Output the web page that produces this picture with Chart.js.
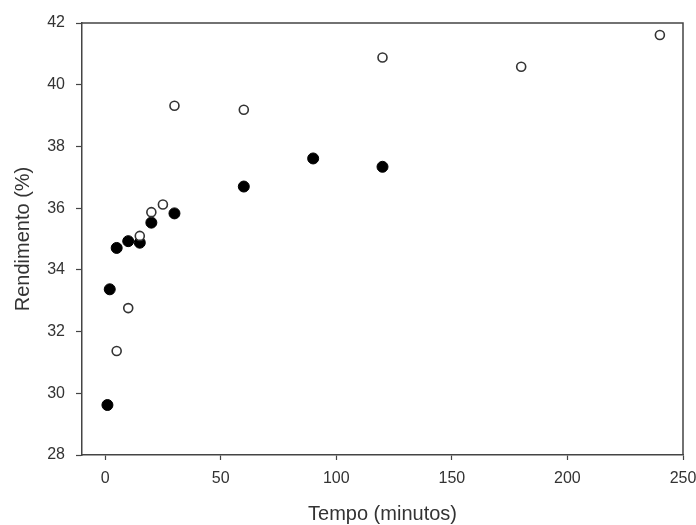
<!DOCTYPE html>
<html>
<head>
<meta charset="utf-8">
<script src="https://cdn.jsdelivr.net/npm/chart.js@4"></script>
<style>
    html, body { margin: 0; padding: 0; background: #fff; }
    #wrap { width: 696px; height: 525px; }
</style>
</head>
<body>
<div id="wrap"><canvas id="scatterChart" width="696" height="525"></canvas></div>
<script>
// data
const filledTime = [1, 2, 5, 10, 15, 20, 30, 60, 90, 120];
const filledYield = [29.62, 33.37, 34.71, 34.93, 34.88, 35.53, 35.83, 36.7, 37.61, 37.34];
const openTime = [5, 10, 15, 20, 25, 30, 60, 120, 180, 240];
const openYield = [31.37, 32.76, 35.1, 35.87, 36.12, 39.32, 39.19, 40.88, 40.58, 41.61];
const xTicks = [0, 50, 100, 150, 200, 250];
const yTicks = [28, 30, 32, 34, 36, 38, 40, 42];

const axisColor = '#444';
const textColor = '#333';
const fontFamily = 'Liberation Sans, Arial, sans-serif';

function toPoints(xs, ys) {
    return xs.map((x, i) => ({ x: x, y: ys[i] }));
}

// top and right border of the frame
const framePlugin = {
    id: 'frame',
    afterDraw(chart) {
        const a = chart.chartArea;
        const ctx = chart.ctx;
        ctx.save();
        ctx.strokeStyle = axisColor;
        ctx.lineWidth = 1.5;
        ctx.beginPath();
        ctx.moveTo(a.left, a.top);
        ctx.lineTo(a.right, a.top);
        ctx.lineTo(a.right, a.bottom);
        ctx.stroke();
        ctx.restore();
    }
};

function noPadding(axis) {
    axis.paddingLeft = 0;
    axis.paddingRight = 0;
    axis.paddingTop = 0;
    axis.paddingBottom = 0;
}

const ctx = document.getElementById('scatterChart').getContext('2d');
new Chart(ctx, {
    type: 'scatter',
    data: {
        datasets: [{
            label: 'filled',
            data: toPoints(filledTime, filledYield),
            pointRadius: 5.5,
            pointBackgroundColor: '#000',
            pointBorderColor: '#000',
            pointBorderWidth: 1,
            order: 2
        }, {
            label: 'open',
            data: toPoints(openTime, openYield),
            pointRadius: 4.5,
            pointBackgroundColor: '#fff',
            pointBorderColor: '#333',
            pointBorderWidth: 1.6,
            order: 1
        }]
    },
    options: {
        responsive: false,
        animation: false,
        layout: { padding: { top: 23, right: 13, left: 0, bottom: 0 } },
        plugins: {
            legend: { display: false },
            tooltip: { enabled: false }
        },
        scales: {
            x: {
                type: 'linear',
                min: -10,
                max: 250,
                afterBuildTicks: axis => { axis.ticks = xTicks.map(v => ({ value: v })); },
                afterFit: axis => { axis.height = 70; noPadding(axis); },
                grid: { drawOnChartArea: false, tickLength: 5, tickColor: axisColor, tickWidth: 1.2 },
                border: { color: axisColor, width: 1.5 },
                ticks: { color: textColor, padding: 9, font: { family: fontFamily, size: 16 } },
                title: {
                    display: true,
                    text: 'Tempo (minutos)',
                    color: textColor,
                    font: { family: fontFamily, size: 20, lineHeight: 1.1 },
                    padding: { top: 4, bottom: 0 }
                }
            },
            y: {
                min: 28,
                max: 42,
                afterBuildTicks: axis => { axis.ticks = yTicks.map(v => ({ value: v })); },
                afterFit: axis => { axis.width = 82; noPadding(axis); },
                grid: { drawOnChartArea: false, tickLength: 6, tickColor: axisColor, tickWidth: 1.2 },
                border: { color: axisColor, width: 1.5 },
                ticks: { color: textColor, padding: 11, font: { family: fontFamily, size: 16 } },
                title: {
                    display: true,
                    text: 'Rendimento (%)',
                    color: textColor,
                    font: { family: fontFamily, size: 20, lineHeight: 1.1 },
                    padding: { top: 12, bottom: 0 }
                }
            }
        }
    },
    plugins: [framePlugin]
});
</script>
</body>
</html>
